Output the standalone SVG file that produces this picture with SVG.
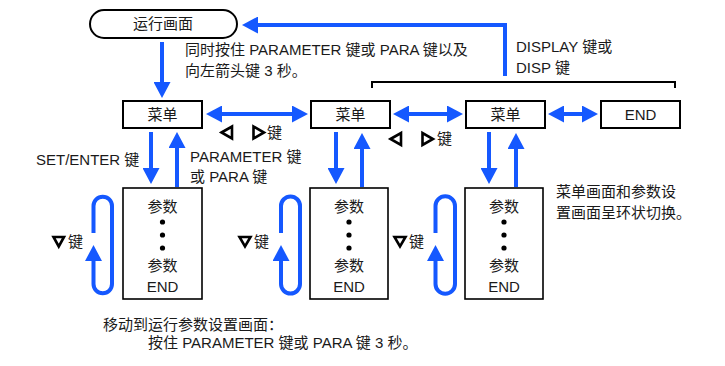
<svg xmlns="http://www.w3.org/2000/svg" width="725" height="366" viewBox="0 0 725 366">
<defs>
<style>
text{font-family:"Liberation Sans","Noto Sans CJK SC",sans-serif;font-size:15px;fill:#1a1a1a}
.c{text-anchor:middle}
.box{fill:#fff;stroke:#000;stroke-width:2}
.pbox{fill:#fff;stroke:#000;stroke-width:1.6}
.blue{fill:none;stroke:#1558ff;stroke-width:4}
.tri{fill:none;stroke:#000;stroke-width:2.6;stroke-linejoin:miter}
.dot{fill:#000}
</style>
<marker id="ah" viewBox="0 0 16 17" refX="6" refY="8.5" markerWidth="16" markerHeight="17" markerUnits="userSpaceOnUse" orient="auto-start-reverse">
<path d="M0,0 L16,8.5 L0,17 z" fill="#1558ff"/>
</marker>
</defs>
<g id="connectors">
<line class="blue" x1="162" y1="42" x2="162" y2="88" marker-end="url(#ah)"/>
<polyline class="blue" points="505,76 505,25 252,25" marker-end="url(#ah)"/>
<line class="blue" x1="216" y1="114" x2="298" y2="114" marker-start="url(#ah)" marker-end="url(#ah)"/>
<line class="blue" x1="403" y1="114" x2="453" y2="114" marker-start="url(#ah)" marker-end="url(#ah)"/>
<line class="blue" x1="558" y1="114" x2="588" y2="114" marker-start="url(#ah)" marker-end="url(#ah)"/>
<line class="blue" x1="151" y1="132" x2="151" y2="174" marker-end="url(#ah)"/>
<line class="blue" x1="177" y1="187" x2="177" y2="142" marker-end="url(#ah)"/>
<line class="blue" x1="336" y1="132" x2="336" y2="174" marker-end="url(#ah)"/>
<line class="blue" x1="362" y1="187" x2="362" y2="143" marker-end="url(#ah)"/>
<line class="blue" x1="489" y1="132" x2="489" y2="174" marker-end="url(#ah)"/>
<line class="blue" x1="516" y1="187" x2="516" y2="143" marker-end="url(#ah)"/>
<path class="blue" d="M93.5,233 L93.5,206 A9.25,9.25 0 0 1 112,206 L112,284 A9.25,9.25 0 0 1 93.5,284 L93.5,255" marker-end="url(#ah)"/>
<path class="blue" d="M281,233 L281,206 A9.5,9.5 0 0 1 300,206 L300,284 A9.5,9.5 0 0 1 281,284 L281,255" marker-end="url(#ah)"/>
<path class="blue" d="M435.5,233 L435.5,206 A9.75,9.75 0 0 1 455,206 L455,284 A9.75,9.75 0 0 1 435.5,284 L435.5,255" marker-end="url(#ah)"/>
<polyline fill="none" stroke="#000" stroke-width="2" points="372,88 372,82 675,82 675,88"/>
</g>
<g id="run-screen">
<rect x="90" y="10" width="147" height="28" rx="14" fill="#fff" stroke="#000" stroke-width="2"/>
<text class="c" x="163" y="29">运行画面</text>
</g>
<g id="menu1"><rect class="box" x="123" y="101" width="79" height="27"/><text class="c" x="162.5" y="119.5">菜单</text></g>
<g id="menu2"><rect class="box" x="311" y="101" width="79" height="27"/><text class="c" x="350.5" y="119.5">菜单</text></g>
<g id="menu3"><rect class="box" x="466" y="101" width="79" height="27"/><text class="c" x="505.5" y="119.5">菜单</text></g>
<g id="end"><rect class="box" x="601" y="101" width="79" height="27"/><text class="c" x="640.5" y="119.5">END</text></g>
<g id="params1">
<rect class="pbox" x="123" y="188" width="79" height="111"/>
<text class="c" x="162.5" y="212">参数</text>
<circle class="dot" cx="162.5" cy="222" r="2.6"/><circle class="dot" cx="162.5" cy="235" r="2.6"/><circle class="dot" cx="162.5" cy="248" r="2.6"/>
<text class="c" x="162.5" y="271">参数</text>
<text class="c" x="162.5" y="292">END</text>
</g>
<g id="params2">
<rect class="pbox" x="310" y="188" width="78" height="111"/>
<text class="c" x="349" y="212">参数</text>
<circle class="dot" cx="349" cy="222" r="2.6"/><circle class="dot" cx="349" cy="235" r="2.6"/><circle class="dot" cx="349" cy="248" r="2.6"/>
<text class="c" x="349" y="271">参数</text>
<text class="c" x="349" y="292">END</text>
</g>
<g id="params3">
<rect class="pbox" x="465" y="188" width="78" height="111"/>
<text class="c" x="504" y="212">参数</text>
<circle class="dot" cx="504" cy="222" r="2.6"/><circle class="dot" cx="504" cy="235" r="2.6"/><circle class="dot" cx="504" cy="248" r="2.6"/>
<text class="c" x="504" y="271">参数</text>
<text class="c" x="504" y="292">END</text>
</g>
<g id="labels">
<text x="185" y="55">同时按住 PARAMETER 键或 PARA 键以及</text>
<text x="185" y="76">向左箭头键 3 秒。</text>
<text x="516" y="52">DISPLAY 键或</text>
<text x="516" y="73">DISP 键</text>
<polygon class="tri" points="221.5,132.5 232,126.5 232,138.5"/>
<polygon class="tri" points="253.5,126.5 253.5,138.5 264,132.5"/>
<text x="267" y="138">键</text>
<polygon class="tri" points="390.5,139 401,133 401,145"/>
<polygon class="tri" points="422.5,133 422.5,145 433,139"/>
<text x="437" y="144">键</text>
<text x="36" y="165">SET/ENTER 键</text>
<text x="190" y="162">PARAMETER 键</text>
<text x="190" y="182">或 PARA 键</text>
<polygon class="tri" points="53.5,237 64,237 58.75,246.5"/>
<text x="68" y="247">键</text>
<polygon class="tri" points="239.5,237 250.5,237 245,246.5"/>
<text x="254" y="247">键</text>
<polygon class="tri" points="394.5,237 405.5,237 400,246.5"/>
<text x="409" y="247">键</text>
<text x="556" y="197">菜单画面和参数设</text>
<text x="556" y="218">置画面呈环状切换。</text>
<text x="103" y="330">移动到运行参数设置画面：</text>
<text x="148" y="348">按住 PARAMETER 键或 PARA 键 3 秒。</text>
</g>
</svg>
